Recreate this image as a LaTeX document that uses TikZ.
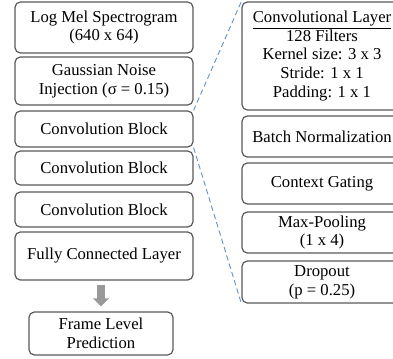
\documentclass[tikz,border=0pt]{standalone}
\usepackage{fontspec}
\setmainfont{Liberation Serif}
\usetikzlibrary{arrows.meta}

\begin{document}
\begin{tikzpicture}[x=0.75pt, y=-0.75pt, >=Stealth,
                    every node/.style={font=\fontsize{12.5}{14}\selectfont, align=center},
                    block/.style={draw=black!65, line width=0.9pt, rounded corners=4pt,
                                  inner sep=0pt, minimum width=133.5pt},
                    layer/.style={block, minimum width=120pt}]
\useasboundingbox (0,0) rectangle (393,358);
\clip (0,0) rectangle (393,358);

% main network
\node[block, minimum height=38.25pt] (spec)  at (104,27.5) {Log Mel Spectrogram\\(640 x 64)};
\node[block, minimum height=36pt]    (noise) at (104,81)   {Gaussian Noise\\Injection (σ = 0.15)};
\node[block, minimum height=27pt]    (conv1) at (104,129)  {Convolution Block};
\node[block, minimum height=25.5pt]  (conv2) at (104,168)  {Convolution Block};
\node[block, minimum height=26.25pt] (conv3) at (104,209.5) {Convolution Block};
\node[block, minimum height=36pt]    (fc)    at (104,256)  {Fully Connected Layer};
\node[block, minimum width=108pt, minimum height=32.25pt] (pred) at (101,333.5) {Frame Level\\Prediction};

% inside one convolution block
\node[layer, minimum height=81pt]    (cl)   at (322,56)    {\underline{Convolutional Layer}\\128 Filters\\Kernel size: 3 x 3\\Stride: 1 x 1\\Padding: 1 x 1};
\node[layer, minimum height=30.75pt] (bn)   at (322,136.5) {Batch Normalization};
\node[layer, minimum height=30.75pt] (cg)   at (322,183.5) {Context Gating};
\node[layer, minimum height=30.75pt] (pool) at (322,232.5) {Max-Pooling\\(1 x 4)};
\node[layer, minimum height=31.5pt]  (drop) at (322,282)   {Dropout\\(p = 0.25)};

\draw[dash pattern=on 4pt off 2.5pt, color={rgb,255:red,100;green,145;blue,225}, line width=0.7pt]
  (conv1.north east) -- (cl.north west)
  (conv1.south east) -- (drop.south west);

\draw[black!40, line width=5.5pt, shorten <=3pt, shorten >=3.75pt,
      -{Triangle[length=6pt,width=11.5pt]}] (fc.south -| pred.north) -- (pred.north);
\end{tikzpicture}
\end{document}
